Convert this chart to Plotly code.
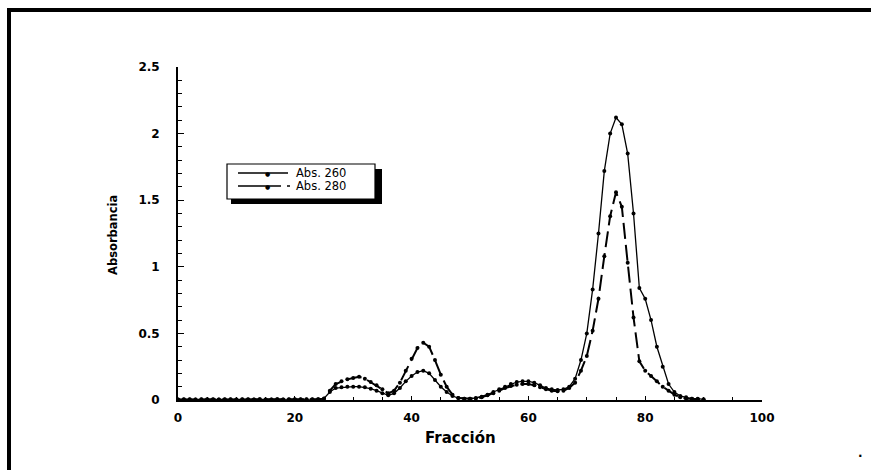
import plotly.graph_objects as go

fraccion = list(range(0, 91))

abs260 = [0.004, 0.004, 0.005, 0.004, 0.004, 0.005, 0.004, 0.004, 0.005, 0.004,
          0.004, 0.005, 0.004, 0.004, 0.005, 0.004, 0.004, 0.005, 0.004, 0.005,
          0.004, 0.005, 0.004, 0.005, 0.006, 0.012, 0.06, 0.09, 0.095, 0.1,
          0.1, 0.1, 0.095, 0.085, 0.07, 0.05, 0.035, 0.05, 0.09, 0.14,
          0.18, 0.21, 0.22, 0.2, 0.15, 0.1, 0.06, 0.03, 0.015, 0.01,
          0.01, 0.015, 0.025, 0.04, 0.06, 0.08, 0.1, 0.12, 0.135, 0.14,
          0.14, 0.13, 0.11, 0.09, 0.08, 0.075, 0.08, 0.1, 0.16, 0.3,
          0.5, 0.83, 1.25, 1.72, 2.0, 2.12, 2.07, 1.85, 1.4, 0.84,
          0.76, 0.6, 0.4, 0.25, 0.12, 0.06, 0.03, 0.02, 0.01, 0.01, 0.005]

abs280 = [0.004, 0.005, 0.004, 0.004, 0.005, 0.004, 0.005, 0.004, 0.004, 0.005,
          0.004, 0.004, 0.005, 0.004, 0.005, 0.004, 0.004, 0.005, 0.004, 0.004,
          0.005, 0.004, 0.005, 0.004, 0.006, 0.01, 0.07, 0.12, 0.14, 0.155,
          0.165, 0.175, 0.16, 0.135, 0.11, 0.08, 0.05, 0.07, 0.13, 0.22,
          0.31, 0.39, 0.43, 0.4, 0.3, 0.19, 0.1, 0.04, 0.015, 0.01,
          0.01, 0.012, 0.02, 0.035, 0.05, 0.07, 0.09, 0.105, 0.115, 0.12,
          0.12, 0.11, 0.095, 0.08, 0.07, 0.065, 0.07, 0.09, 0.13, 0.22,
          0.33, 0.52, 0.76, 1.08, 1.38, 1.56, 1.45, 1.03, 0.62, 0.29,
          0.22, 0.18, 0.14, 0.1, 0.07, 0.04, 0.02, 0.01, 0.01, 0.005, 0.0]

series_names = ["Abs. 260", "Abs. 280"]
y_tickvals = [0, 0.5, 1, 1.5, 2, 2.5]
y_ticktext = ["0", "0.5", "1", "1.5", "2", "2.5"]
x_tickvals = [0, 20, 40, 60, 80, 100]
x_ticktext = ["0", "20", "40", "60", "80", "100"]

BOLD = "DejaVu Sans, sans-serif"
REG = "DejaVu Sans, sans-serif"

fig = go.Figure()
fig.add_trace(go.Scatter(
    x=fraccion, y=abs260, name=series_names[0], mode="lines+markers",
    line=dict(color="black", width=1.3),
    marker=dict(symbol="circle", size=4, color="black"),
    cliponaxis=False, showlegend=False,
))
fig.add_trace(go.Scatter(
    x=fraccion, y=abs280, name=series_names[1], mode="lines+markers",
    line=dict(color="black", width=2, dash="16px,6px"),
    marker=dict(symbol="circle", size=4, color="black"),
    cliponaxis=False, showlegend=False,
))

L, R, T, B = 178, 109, 67, 70
W, H = 871, 470
pw = W - L - R
ph = H - T - B

def px(xp):
    return (xp - L) / pw

def py(yp):
    return (H - B - yp) / ph

LEG_Y = [173, 186]

shapes = [
    # outer frame (left and top)
    dict(type="line", xref="paper", yref="paper", x0=px(9), x1=px(9), y0=py(8), y1=py(470),
         line=dict(color="black", width=4)),
    dict(type="line", xref="paper", yref="paper", x0=px(7), x1=px(871), y0=py(10), y1=py(10),
         line=dict(color="black", width=4)),
    # legend shadow and box
    dict(type="rect", xref="paper", yref="paper", x0=px(231), x1=px(382), y0=py(169), y1=py(204),
         fillcolor="black", line=dict(width=0)),
    dict(type="rect", xref="paper", yref="paper", x0=px(227), x1=px(375), y0=py(164), y1=py(199),
         fillcolor="white", line=dict(color="black", width=1.2)),
    # legend samples
    dict(type="line", xref="paper", yref="paper", x0=px(238), x1=px(288), y0=py(LEG_Y[0]), y1=py(LEG_Y[0]),
         line=dict(color="black", width=1.3)),
    dict(type="line", xref="paper", yref="paper", x0=px(238), x1=px(290), y0=py(LEG_Y[1]), y1=py(LEG_Y[1]),
         line=dict(color="black", width=1.5, dash="43px,6px")),
]

annotations = [
    dict(text="Fracción", x=px(460), y=py(449), xref="paper", yref="paper",
         showarrow=False, font=dict(family=BOLD, size=15, weight="bold")),
    dict(text="Absorbancia", x=px(104), y=py(235), xref="paper", yref="paper",
         showarrow=False, textangle=-90, font=dict(family=BOLD, size=11.5, weight="bold")),
    dict(text=".", x=px(865), y=py(462), xref="paper", yref="paper",
         showarrow=False, font=dict(family=BOLD, size=12, weight="bold")),
]
for name, yy in zip(series_names, LEG_Y):
    annotations.append(dict(text=name, x=px(295), y=py(yy), xref="paper", yref="paper",
                            xanchor="left", yanchor="middle", showarrow=False, borderpad=0,
                            font=dict(family=REG, size=11.5, color="black")))
    annotations.append(dict(text="●", x=px(267), y=py(yy), xref="paper", yref="paper",
                            xanchor="center", yanchor="middle", showarrow=False, borderpad=0,
                            font=dict(family=REG, size=6, color="black")))

fig.update_layout(
    width=W, height=H,
    margin=dict(l=L, r=R, t=T, b=B, pad=0),
    plot_bgcolor="white", paper_bgcolor="white",
    font=dict(family=BOLD, color="black", size=12),
    showlegend=False,
    xaxis=dict(
        range=[0, 100], showgrid=False, zeroline=False,
        showline=True, linecolor="black", linewidth=1.8,
        ticks="inside", ticklen=4, tickwidth=1.2, tickcolor="black",
        tickvals=x_tickvals, ticktext=x_ticktext,
        tickfont=dict(family=BOLD, size=12, weight="bold"),
        minor=dict(ticks="inside", ticklen=3, dtick=5, tickcolor="black", tickwidth=1),
        ticklabelstandoff=6,
    ),
    yaxis=dict(
        range=[0, 2.5], showgrid=False, zeroline=False,
        showline=True, linecolor="black", linewidth=1.8,
        ticks="inside", ticklen=6, tickwidth=1.2, tickcolor="black",
        tickvals=y_tickvals, ticktext=y_ticktext,
        tickfont=dict(family=BOLD, size=12, weight="bold"),
        minor=dict(ticks="inside", ticklen=4, dtick=0.1, tickcolor="black", tickwidth=1),
        ticklabelstandoff=14,
    ),
    annotations=annotations,
    shapes=shapes,
)

fig.write_html("out.html")
